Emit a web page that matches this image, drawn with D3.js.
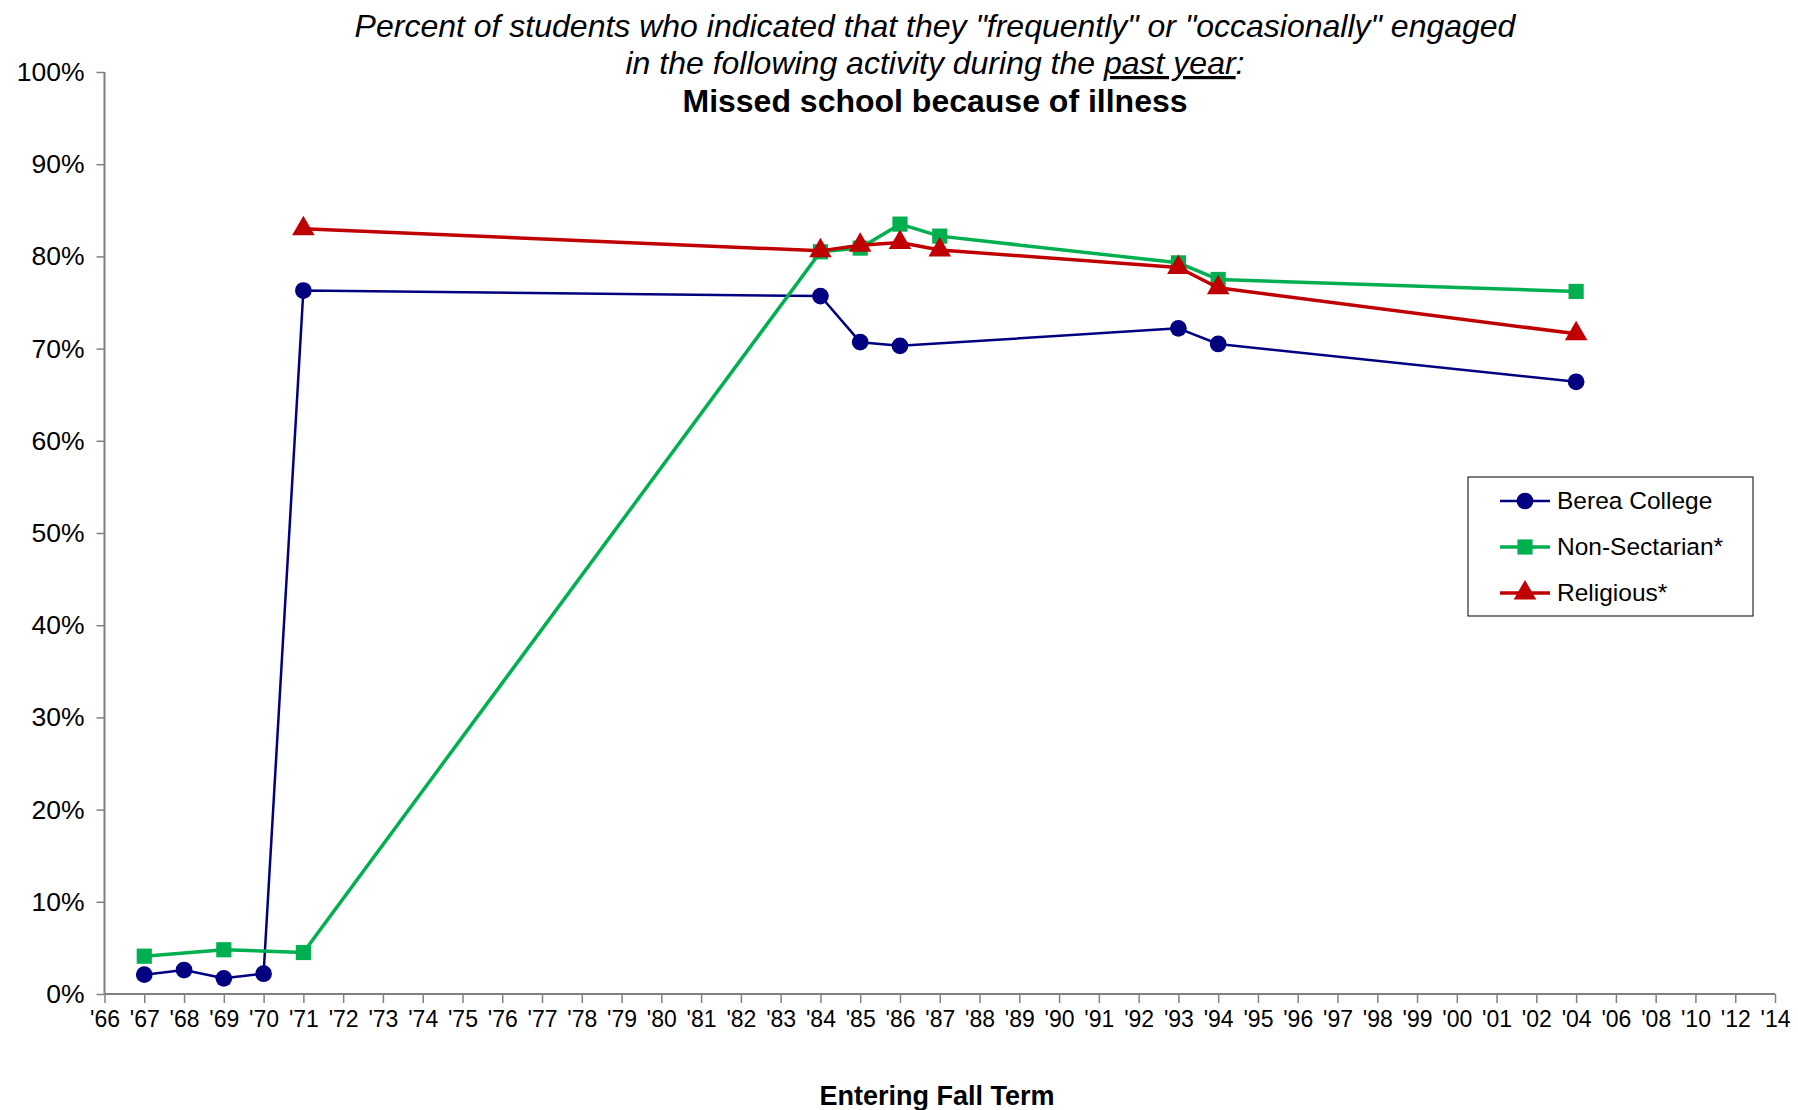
<!DOCTYPE html>
<html>
<head>
<meta charset="utf-8">
<script src="https://cdn.jsdelivr.net/npm/d3@7/dist/d3.min.js"></script>
<style>
  html, body { margin: 0; padding: 0; background: #fff; }
  svg { display: block; font-family: "Liberation Sans", Arial, sans-serif; }
</style>
</head>
<body>
<svg id="chart" width="1798" height="1110"></svg>
<script>
const yearLabels = ["'66","'67","'68","'69","'70","'71","'72","'73","'74","'75","'76","'77","'78","'79","'80","'81","'82","'83","'84","'85","'86","'87","'88","'89","'90","'91","'92","'93","'94","'95","'96","'97","'98","'99","'00","'01","'02","'04","'06","'08","'10","'12","'14"];
const yTicks = [0,10,20,30,40,50,60,70,80,90,100];

const bereaYears = ["'67","'68","'69","'70","'71","'84","'85","'86","'93","'94","'04"];
const bereaValues = [2.1, 2.6, 1.7, 2.2, 76.3, 75.7, 70.7, 70.3, 72.2, 70.5, 66.4];

const nonSectYears = ["'67","'69","'71","'84","'85","'86","'87","'93","'94","'04"];
const nonSectValues = [4.1, 4.8, 4.5, 80.5, 80.9, 83.5, 82.2, 79.3, 77.5, 76.2];

const religYears = ["'71","'84","'85","'86","'87","'93","'94","'04"];
const religValues = [83.0, 80.6, 81.2, 81.5, 80.7, 78.8, 76.6, 71.6];

const seriesNames = ["Berea College","Non-Sectarian*","Religious*"];

const svg = d3.select("#chart");
const x = d3.scalePoint().domain(yearLabels).range([104.5, 1775]);
const y = d3.scaleLinear().domain([0, 100]).range([994, 72]);

// Axes
const yAxis = d3.axisLeft(y).tickValues(yTicks).tickFormat(d => d + "%").tickSize(8).tickPadding(12);
const gy = svg.append("g").attr("transform", "translate(104.5,0)").call(yAxis);
const xAxis = d3.axisBottom(x).tickSize(9).tickPadding(8);
const gx = svg.append("g").attr("transform", "translate(0,994)").call(xAxis);
[gx, gy].forEach(g => {
  g.selectAll("path.domain").attr("stroke", "#808080").attr("stroke-width", 2);
  g.selectAll(".tick line").attr("stroke", "#808080").attr("stroke-width", 1.5);
  g.selectAll("text").attr("fill", "#000").style("font-family", '"Liberation Sans", Arial, sans-serif');
});
gx.selectAll("text").style("font-size", "23px");
gy.selectAll("text").style("font-size", "26.5px");
gy.selectAll("path.domain").attr("d", "M0,994V72");
gx.selectAll("path.domain").attr("d", "M104.5,0H1775");

// Titles
const title = svg.append("text").attr("text-anchor", "middle").attr("fill", "#000");
title.append("tspan").attr("x", 935).attr("y", 37).style("font-size", "32px").style("font-style", "italic")
  .text('Percent of students who indicated that they "frequently" or "occasionally" engaged');
const l2 = title.append("tspan").attr("x", 935).attr("y", 74).style("font-size", "32px").style("font-style", "italic");
l2.append("tspan").text("in the following activity during the ");
l2.append("tspan").style("text-decoration", "underline").text("past year");
l2.append("tspan").text(":");
title.append("tspan").attr("x", 935).attr("y", 112).style("font-size", "32px").style("font-weight", "bold")
  .text("Missed school because of illness");

svg.append("text").attr("x", 937).attr("y", 1105).attr("text-anchor", "middle")
  .style("font-size", "27px").style("font-weight", "bold").text("Entering Fall Term");

// Series
const series = [
  {name: seriesNames[0], years: bereaYears, values: bereaValues, color: "#000080", width: 2.5, marker: "circle"},
  {name: seriesNames[1], years: nonSectYears, values: nonSectValues, color: "#00B050", width: 3.5, marker: "square"},
  {name: seriesNames[2], years: religYears, values: religValues, color: "#C00000", width: 3.5, marker: "triangle"}
];
const symbolFor = m => m === "circle" ? d3.symbol().type(d3.symbolCircle).size(220)
  : m === "square" ? d3.symbol().type(d3.symbolSquare).size(230)
  : d3.symbol().type(d3.symbolTriangle).size(220);

const line = d3.line().x(d => x(d[0])).y(d => y(d[1]));
series.forEach(s => {
  const pts = s.years.map((yr, i) => [yr, s.values[i]]);
  svg.append("path").attr("d", line(pts)).attr("fill", "none")
    .attr("stroke", s.color).attr("stroke-width", s.width).attr("stroke-linejoin", "round");
  svg.append("g").selectAll("path").data(pts).join("path")
    .attr("d", symbolFor(s.marker)())
    .attr("transform", d => `translate(${x(d[0])},${y(d[1])})`)
    .attr("fill", s.color);
});

// Legend
const lg = svg.append("g");
lg.append("rect").attr("x", 1468).attr("y", 477).attr("width", 285).attr("height", 139)
  .attr("fill", "#fff").attr("stroke", "#000").attr("stroke-width", 1);
series.forEach((s, i) => {
  const cy = 501 + i * 46;
  lg.append("line").attr("x1", 1500).attr("x2", 1550).attr("y1", cy).attr("y2", cy)
    .attr("stroke", s.color).attr("stroke-width", s.width);
  lg.append("path").attr("d", symbolFor(s.marker)()).attr("transform", `translate(1525,${cy})`).attr("fill", s.color);
  lg.append("text").attr("x", 1557).attr("y", cy + 8).style("font-size", "24.5px").text(s.name);
});
</script>
</body>
</html>
